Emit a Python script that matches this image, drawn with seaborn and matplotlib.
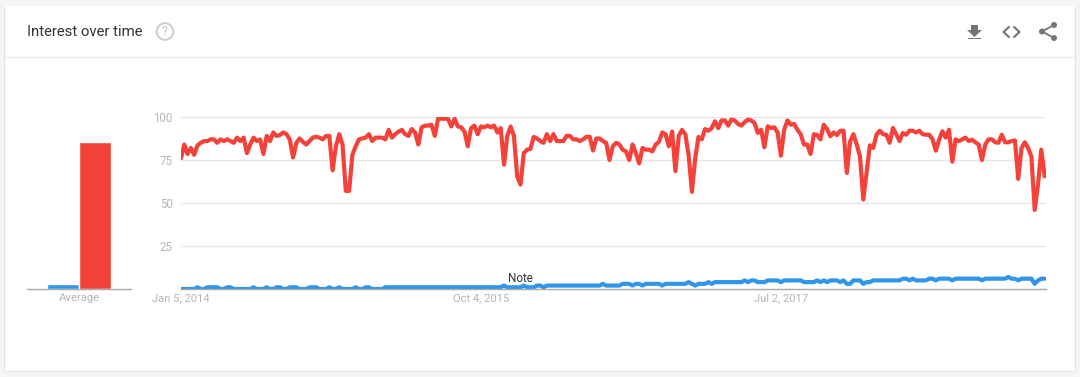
import numpy as np
import pandas as pd
import matplotlib.pyplot as plt
import seaborn as sns
from matplotlib.patches import Rectangle, Circle, Polygon

sns.set_style("white")
plt.rcParams['font.family'] = ['Roboto', 'DejaVu Sans']

# ========== data, weekly values ==========
red_values = [
    76, 84, 78.5, 82, 78, 83.5, 85, 86, 86, 87,
    87, 85, 87, 86, 87, 86, 85, 88, 86, 88,
    79, 84, 88, 86, 87, 78.5, 89, 86, 91, 89,
    89.5, 91, 90, 87, 76.5, 85, 87.5, 85.5, 84, 86,
    88, 88.5, 88, 87, 89, 89, 69, 83, 90, 84,
    57, 57, 78, 83, 87, 87.5, 88, 90, 86, 88,
    88, 88, 87, 92.5, 88, 90, 91.5, 92.5, 90, 89,
    93, 91, 84, 94, 95, 95, 95.5, 89, 99, 99,
    99, 99, 94.5, 99, 94.5, 94, 91.5, 83, 93.5, 95,
    90, 94.5, 94, 95, 94, 95, 91, 93.5, 72.3, 89,
    94.5, 89, 65.5, 60.7, 79, 81, 81.4, 88.4, 87.5, 86,
    85, 90, 86, 90, 86, 86, 86, 89, 89, 87,
    87, 86, 87, 88.5, 88.5, 80.5, 87.5, 87.5, 86, 85,
    75, 83, 85, 84, 81, 80, 75, 84, 79, 73,
    82, 81, 81, 80, 84, 85.5, 91, 90, 83, 91.5,
    68.5, 89, 92.5, 90, 78, 56.5, 76, 88.4, 87, 93,
    92, 93.5, 97.5, 93.5, 98, 98, 95, 98.5, 98, 96,
    95, 97, 98.5, 98, 96.5, 90.7, 92.6, 82.4, 94.6, 93.6,
    94, 91, 77.5, 92.6, 98, 95.5, 96, 92.6, 90, 84,
    84, 78.5, 90, 89.5, 87, 95.5, 93, 88.8, 91, 89.5,
    92, 92, 67.5, 85.8, 90, 84, 77, 52, 68, 83.5,
    82, 89.7, 92, 90, 89.7, 85, 93.6, 90, 86, 90.7,
    89.7, 92, 92, 91, 92, 90, 89.7, 89.7, 87, 80.4,
    86.8, 91.7, 88, 92.6, 74, 87, 86, 87, 88, 86,
    86.8, 85.3, 84, 75, 84, 87, 87, 85.3, 85, 89.7,
    85.3, 85.3, 86, 86.4, 64, 82, 85.3, 82, 77, 46,
    60.7, 81, 65.5,
]
blue_values = [
    0, 0, 0, 0, 0, 1, 0, 0, 1, 1,
    1, 1, 0, 0, 1, 1, 0, 0, 0, 0,
    0, 0, 1, 0, 0, 0, 1, 0, 0, 1,
    1, 0, 0, 1, 1, 1, 0, 0, 0, 1,
    1, 1, 0, 0, 0, 1, 0, 0, 1, 0,
    0, 0, 0, 1, 0, 0, 1, 1, 0, 0,
    0, 0, 1, 1, 1, 1, 1, 1, 1, 1,
    1, 1, 1, 1, 1, 1, 1, 1, 1, 1,
    1, 1, 1, 1, 1, 1, 1, 1, 1, 1,
    1, 1, 1, 1, 1, 1, 1, 1, 2, 1,
    1, 1, 1, 1, 2, 1, 1, 1, 2, 2,
    1, 2, 2, 2, 2, 2, 2, 2, 2, 2,
    2, 2, 2, 2, 2, 2, 2, 2, 3, 2,
    2, 2, 2, 2, 3, 3, 3, 2, 3, 3,
    2, 3, 3, 3, 3, 3, 2, 3, 3, 3,
    3, 3, 3, 3, 4, 3, 2, 3, 3, 3,
    4, 3, 4, 4, 4, 4, 4, 4, 4, 4,
    4, 5, 4, 5, 5, 4, 4, 4, 5, 5,
    5, 5, 4, 5, 5, 5, 5, 5, 5, 4,
    4, 4, 4, 5, 4, 5, 4, 5, 5, 5,
    4, 5, 3, 3, 5, 5, 5, 3, 4, 4,
    5, 5, 5, 5, 5, 5, 5, 5, 5, 6,
    6, 5, 6, 5, 5, 5, 5, 6, 6, 5,
    6, 6, 6, 6, 5, 6, 6, 6, 6, 6,
    6, 6, 6, 5, 6, 6, 6, 6, 6, 6,
    6, 7, 6, 6, 5, 6, 6, 6, 6, 3,
    5, 6, 6,
]
avg_terms = ["blue", "red"]
avg_values = [3, 85.5]
y_ticks = [25, 50, 75, 100]
x_tick_dates = ["2014-01-05", "2015-10-04", "2017-07-02"]
x_tick_labels = ["Jan 5, 2014", "Oct 4, 2015", "Jul 2, 2017"]
note_date = "2015-12-27"
note_value = 6

colors = {"blue": "#2f96ea", "red": "#f4423a"}
W, H = 1080, 377
TICK_GREY = "#b5b5b5"

dates = pd.date_range("2014-01-05", periods=len(red_values), freq="7D")
df = pd.DataFrame({"date": dates, "blue": blue_values, "red": red_values})
df_long = df.melt(id_vars="date", var_name="term", value_name="interest")
avg_df = pd.DataFrame({"term": avg_terms, "average": avg_values})


def px_axes(x0, y0, x1, y1):
    # axes placed by pixel box, y measured from the top
    return fig.add_axes([x0 / W, (H - y1) / H, (x1 - x0) / W, (y1 - y0) / H])


fig = plt.figure(figsize=(W / 100, H / 100), dpi=100, facecolor="#f5f5f5")

# ---------- card and header ----------
bg = fig.add_axes([0, 0, 1, 1], zorder=-1)
bg.set_xlim(0, W)
bg.set_ylim(H, 0)
bg.axis("off")
bg.add_patch(Rectangle((4, 7), 1072, 365, fc="#e2e2e2", ec="none"))
bg.add_patch(Rectangle((5, 6), 1070, 365, fc="white", ec="none"))
bg.plot([5, 1075], [57, 57], color="#e8e8e8", lw=0.9)
bg.text(27, 31.5, "Interest over time", fontsize=10.75, color="#333333", va="center", ha="left")
bg.add_patch(Circle((165, 31.5), 8.3, fc="none", ec="#cccccc", lw=1.4))
bg.text(165, 31.5, "?", fontsize=9, color="#c4c4c4", va="center", ha="center")

# download icon
icon = "#757575"
bg.add_patch(Polygon([[971, 25], [978, 25], [978, 30], [982, 30], [974.5, 37], [967, 30], [971, 30]], fc=icon, ec="none"))
bg.add_patch(Rectangle((968, 37.8), 13, 1.6, fc=icon, ec="none"))
# code icon
bg.plot([1009, 1003.5, 1009], [27, 32, 37], color=icon, lw=1.5)
bg.plot([1014, 1019.5, 1014], [27, 32, 37], color=icon, lw=1.5)
# share icon
bg.plot([1054, 1042, 1054], [25, 31.5, 38], color=icon, lw=1.3)
for cx, cy in [(1054, 25), (1042, 31.5), (1054, 38)]:
    bg.add_patch(Circle((cx, cy), 3, fc=icon, ec="none"))

# ---------- average bars ----------
ax_avg = px_axes(27, 117, 131, 289)
ax_avg.patch.set_alpha(0)
sns.barplot(data=avg_df, x="term", y="average", hue="term", palette=colors,
            width=1, saturation=1, legend=False, ax=ax_avg)
ax_avg.set_xlim(-1.125, 2.125)
ax_avg.set_ylim(0, 100)
ax_avg.set_xticks([0.5])
ax_avg.set_xticklabels(["Average"], fontsize=8.1, color=TICK_GREY)
ax_avg.set_yticks([])
ax_avg.set_xlabel("")
ax_avg.set_ylabel("")
ax_avg.tick_params(axis="x", length=0, pad=3)
sns.despine(ax=ax_avg, left=True)
ax_avg.spines["bottom"].set_color("#a8a8a8")
ax_avg.spines["bottom"].set_linewidth(1)

# ---------- main lines ----------
ax = px_axes(181, 117, 1046, 289)
ax.patch.set_alpha(0)
for tick in y_ticks:
    ax.axhline(tick, color="#e6e6e6", lw=0.9, zorder=0)
sns.lineplot(data=df_long, x="date", y="interest", hue="term", hue_order=["red", "blue"],
             palette=colors, linewidth=3, legend=False, ax=ax)
ax.set_xlim(dates[0], dates[-1] + pd.Timedelta(days=3))
ax.set_ylim(0, 100)
ax.set_yticks(y_ticks)
ax.set_yticklabels([str(t) for t in y_ticks], fontsize=8.3, color=TICK_GREY)
ax.set_xticks(pd.to_datetime(x_tick_dates))
ax.set_xticklabels(x_tick_labels, fontsize=8.1, color=TICK_GREY)
ax.set_xlabel("")
ax.set_ylabel("")
ax.tick_params(axis="both", length=0)
ax.tick_params(axis="x", pad=3)
ax.tick_params(axis="y", pad=6)
sns.despine(ax=ax, left=True)
ax.spines["bottom"].set_color("#a8a8a8")
ax.spines["bottom"].set_linewidth(1)
ax.text(pd.Timestamp(note_date), note_value, "Note", fontsize=8.4, color="#333333", ha="center", va="center")

fig.savefig("out.png", dpi=100, facecolor=fig.get_facecolor())
plt.close()
